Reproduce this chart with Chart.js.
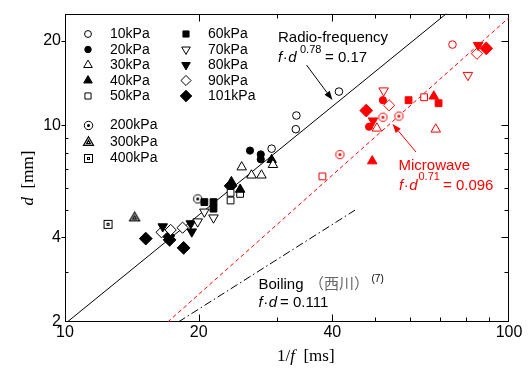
<!DOCTYPE html>
<html><head><meta charset="utf-8">
<script src="https://cdn.jsdelivr.net/npm/chart.js@4/dist/chart.umd.min.js"></script>
<style>html,body{margin:0;padding:0;background:#fff}#wrap{width:531px;height:369px;position:relative}</style>
</head><body><div id="wrap"><canvas id="c" width="531" height="369"></canvas></div>
<script>
// ---------- data ----------
const xTicks = [10, 20, 40, 100];
const yTicks = [2, 4, 10, 20];
const xMinor = [30, 50, 60, 70, 80, 90];
const yMinor = [3, 5, 6, 7, 8, 9];
const pressureLabels = ['10kPa','20kPa','30kPa','40kPa','50kPa','60kPa','70kPa','80kPa','90kPa','101kPa','200kPa','300kPa','400kPa'];

// Radio-frequency (black), [1/f ms, d mm]
const rf10  = [[33.2,10.85],[33.1,9.7],[29.2,8.27],[41.4,13.2]];
const rf20  = [[26.1,8.14],[27.6,7.89],[27.6,7.58]];
const rf30  = [[25.0,7.11],[26.3,6.65],[27.7,6.65],[29.4,7.25]];
const rf40  = [[23.7,6.3],[24.8,5.92],[29.2,7.55]];
const rf50  = [[23.6,5.76],[23.6,5.41],[24.8,5.71]];
const rf60  = [[20.6,5.34],[21.6,5.34],[21.6,5.06]];
const rf70  = [[19.9,4.55],[20.6,4.93],[21.6,4.70]];
const rf80  = [[16.6,4.37],[19.2,4.48],[19.3,4.19]];
const rf90  = [[16.5,4.17],[18.4,4.33],[17.3,4.25]];
const rf101 = [[15.2,3.96],[17.1,4.05],[17.2,3.92],[18.5,3.67],[23.6,6.1]];
const rf200 = [[19.9,5.48]];
const rf300 = [[14.35,4.73]];
const rf400 = [[12.5,4.45]];

// Microwave (red)
const mw10  = [[74.6,19.4]];
const mw20  = [[52.0,12.3],[48.4,9.9]];
const mw30  = [[50.4,9.77],[68.4,9.69]];
const mw40  = [[67.7,12.7],[49.2,7.47]];
const mw50  = [[64.4,12.6],[38.0,6.59]];
const mw60  = [[59.4,12.3],[69.4,12.0]];
const mw70  = [[52.2,13.3],[80.8,15.1]];
const mw80  = [[85.2,19.3],[49.4,10.4]];
const mw90  = [[84.7,18.0],[53.7,11.8]];
const mw101 = [[88.9,18.8],[47.7,11.3]];
const mw200 = [[52.0,10.7],[56.5,10.8],[41.6,7.88]];

// correlation lines (end points)
const rfLine   = [[10,1.97],[72.3,25]];   // f·d^0.78 = 0.17
const mwLine   = [[17.04,2],[100,24.2]];  // f·d^0.71 = 0.096
const boilLine = [[18.0,2],[45,5.0]];     // f·d = 0.111

const rfSets = [rf10,rf20,rf30,rf40,rf50,rf60,rf70,rf80,rf90,rf101,rf200,rf300,rf400];
const mwSets = [mw10,mw20,mw30,mw40,mw50,mw60,mw70,mw80,mw90,mw101,mw200,null,null];

// ---------- styles ----------
function makeImg(kind, color){
  const c = document.createElement('canvas'); c.width = 13; c.height = 13;
  const g = c.getContext('2d'); g.strokeStyle = color; g.fillStyle = color; g.lineWidth = 1;
  const m = 6.5;
  if (kind === 'dot'){
    g.beginPath(); g.arc(m,m,4.2,0,Math.PI*2); g.fillStyle='#fff'; g.fill(); g.stroke();
    g.beginPath(); g.arc(m,m,1.5,0,Math.PI*2); g.fillStyle=color; g.fill();
  } else if (kind === 'tri2'){
    const tri=(r)=>{g.beginPath();for(let i=0;i<3;i++){const a=-Math.PI/2+i*2*Math.PI/3;const px=m+r*Math.cos(a),py=m+1+r*Math.sin(a);i?g.lineTo(px,py):g.moveTo(px,py);}g.closePath();};
    tri(5.8); g.fillStyle='#fff'; g.fill(); g.lineWidth=1.2; g.stroke(); tri(2.2); g.lineWidth=1.2; g.stroke();
  } else {
    g.fillStyle='#fff'; g.fillRect(2.5,2.5,8,8); g.strokeRect(2.5,2.5,8,8); g.strokeRect(5.5,5.5,2,2);
  }
  return c;
}
function markerSpec(i, color){
  const specs = [
    {s:'circle', r:3.8, fill:false},
    {s:'circle', r:3.6, fill:true},
    {s:'triangle', r:5.5, fill:false},
    {s:'triangle', r:5.5, fill:true},
    {s:'rect', r:4.8, fill:false},
    {s:'rect', r:4.8, fill:true},
    {s:'triangle', r:5.5, fill:false, rot:180},
    {s:'triangle', r:5.5, fill:true, rot:180},
    {s:'rectRot', r:5.6, fill:false},
    {s:'rectRot', r:6.4, fill:true},
    {s:makeImg('dot',color), r:5, fill:false},
    {s:makeImg('tri2',color), r:5, fill:false},
    {s:makeImg('sq2',color), r:5, fill:false}
  ];
  return specs[i];
}

const datasets = [];
function addSets(sets, color){
  sets.forEach((arr, i) => {
    if (!arr) return;
    const m = markerSpec(i, color);
    datasets.push({
      label: pressureLabels[i],
      data: arr.map(p => ({x:p[0], y:p[1]})),
      pointStyle: m.s, pointRadius: m.r, pointRotation: m.rot || 0,
      backgroundColor: m.fill ? color : '#fff', borderColor: color, borderWidth: 1,
      showLine: false, order: 0
    });
  });
}
addSets(rfSets, '#000');
addSets(mwSets, '#ff0000');
function lineSet(arr, color, dash){
  return {label:'', data: arr.map(p=>({x:p[0],y:p[1]})), showLine:true, pointRadius:0,
    borderColor:color, borderWidth:1, borderDash:dash, fill:false, order:5};
}
datasets.push(lineSet(rfLine, '#000', []));
datasets.push(lineSet(mwLine, '#ff0000', [4,3]));
datasets.push(lineSet(boilLine, '#000', [8,3,1.5,3]));

// ---------- helpers ----------
const SANS = '"Liberation Sans", Arial, sans-serif';
const SERIF = '"Liberation Serif", "Times New Roman", serif';
function txt(ctx, s, x, y, font, color){ ctx.font = font; ctx.fillStyle = color; ctx.fillText(s, x, y); return x + ctx.measureText(s).width; }
function arrow(ctx, x1,y1,x2,y2,color){
  ctx.save(); ctx.strokeStyle=color; ctx.fillStyle=color; ctx.lineWidth=1;
  const a=Math.atan2(y2-y1,x2-x1), L=9, W=3.2;
  const bx=x2-L*Math.cos(a), by=y2-L*Math.sin(a);
  ctx.beginPath(); ctx.moveTo(x1,y1); ctx.lineTo(bx,by); ctx.stroke();
  ctx.beginPath(); ctx.moveTo(x2,y2);
  ctx.lineTo(bx+W*Math.sin(a), by-W*Math.cos(a)); ctx.lineTo(bx-W*Math.sin(a), by+W*Math.cos(a)); ctx.closePath(); ctx.fill();
  ctx.restore();
}

const framePlugin = {
  id:'frame',
  beforeDatasetsDraw(chart){
    const {ctx, chartArea:a, scales:{x,y}} = chart;
    ctx.save(); ctx.strokeStyle='#000'; ctx.lineWidth=1;
    const L=Math.round(a.left)+0.5, R=Math.round(a.right)-0.5, T=Math.round(a.top)+0.5, B=Math.round(a.bottom)-0.5;
    ctx.strokeRect(L,T,R-L,B-T);
    ctx.beginPath();
    const xt=(v,len)=>{const p=Math.round(x.getPixelForValue(v))+0.5; ctx.moveTo(p,B); ctx.lineTo(p,B-len); ctx.moveTo(p,T); ctx.lineTo(p,T+len);};
    xTicks.slice(1,-1).forEach(v=>xt(v,7)); xMinor.forEach(v=>xt(v,4));
    const yt=(v,len,out)=>{const p=Math.round(y.getPixelForValue(v))+0.5; ctx.moveTo(R,p); ctx.lineTo(R-len,p); if(out){ctx.moveTo(L,p);ctx.lineTo(L-4,p);}else{ctx.moveTo(L,p);ctx.lineTo(L+3,p);} };
    yTicks.slice(1).forEach(v=>yt(v,7,true)); yMinor.forEach(v=>yt(v,4,false));
    ctx.stroke(); ctx.restore();
  },
  afterDraw(chart){
    const ctx = chart.ctx;
    ctx.save(); ctx.textBaseline='alphabetic'; ctx.textAlign='left';
    // legend
    const drawPt = (i, cx, cy) => {
      const m = markerSpec(i, '#000');
      ctx.save(); ctx.fillStyle = m.fill ? '#000' : '#fff'; ctx.strokeStyle='#000'; ctx.lineWidth=1;
      Chart.helpers.drawPoint(ctx, {pointStyle:m.s, radius:m.r*0.9, rotation:m.rot||0, borderWidth:1}, cx, cy);
      ctx.restore();
    };
    ctx.textBaseline='middle';
    for (let i=0;i<13;i++){
      let cx, tx, cy;
      if (i<5){ cx=88; tx=110; cy=34+i*15.5; }
      else if (i<10){ cx=186; tx=208; cy=34+(i-5)*15.5; }
      else { cx=88; tx=110; cy=125+(i-10)*16.3; }
      const px = i>=10 ? Math.round(cx)+0.5 : cx, py = i>=10 ? Math.round(cy)+0.5 : cy;
      drawPt(i, px, py);
      txt(ctx, pressureLabels[i], tx, cy+0.5, '14px '+SANS, '#000');
    }
    ctx.textBaseline='alphabetic';
    // Radio-frequency
    txt(ctx, 'Radio-frequency', 278, 41.5, '15px '+SANS, '#000');
    let e = txt(ctx, 'f', 278, 61.5, 'italic 15px '+SANS, '#000');
    e = txt(ctx, '·', e+0.5, 61.5, '15px '+SANS, '#000');
    txt(ctx, 'd', e+0.5, 61.5, 'italic 15px '+SANS, '#000');
    txt(ctx, '0.78', 300, 53, '11px '+SANS, '#000');
    txt(ctx, '= 0.17', 325, 61.5, '15px '+SANS, '#000');
    arrow(ctx, 306.5, 65, 332.5, 100, '#000');
    // Microwave
    txt(ctx, 'Microwave', 398.5, 170, '15px '+SANS, '#ff0000');
    e = txt(ctx, 'f', 399, 189.5, 'italic 15px '+SANS, '#ff0000');
    e = txt(ctx, '·', e+0.5, 189.5, '15px '+SANS, '#ff0000');
    txt(ctx, 'd', e+0.5, 189.5, 'italic 15px '+SANS, '#ff0000');
    txt(ctx, '0.71', 418.5, 180, '11px '+SANS, '#ff0000');
    txt(ctx, '= 0.096', 443, 189.5, '15px '+SANS, '#ff0000');
    arrow(ctx, 416, 152, 392.5, 124, '#ff0000');
    // Boiling
    txt(ctx, 'Boiling', 258.5, 288.5, '15px '+SANS, '#000');
    txt(ctx, '（西川）', 309, 288.5, '15px "Noto Sans CJK JP", sans-serif', '#666');
    txt(ctx, '(7)', 371.5, 281.5, '10px '+SANS, '#000');
    e = txt(ctx, 'f', 258.5, 306.5, 'italic 15px '+SANS, '#000');
    e = txt(ctx, '·', e+0.5, 306.5, '15px '+SANS, '#000');
    txt(ctx, 'd', e+0.5, 306.5, 'italic 15px '+SANS, '#000');
    txt(ctx, '= 0.111', 280, 306.5, '15px '+SANS, '#000');
    // axis titles
    e = txt(ctx, '1/', 277, 361, '17px '+SERIF, '#000');
    e = txt(ctx, 'f', e, 361, 'italic 17px '+SERIF, '#000');
    txt(ctx, '  [ms]', e, 361, '17px '+SERIF, '#000');
    ctx.translate(33, 178); ctx.rotate(-Math.PI/2);
    ctx.font='italic 17px '+SERIF; const w1=ctx.measureText('d').width;
    ctx.font='17px '+SERIF; const w2=ctx.measureText('  [mm]').width;
    const sx = -(w1+w2)/2;
    txt(ctx, 'd', sx, 0, 'italic 17px '+SERIF, '#000');
    txt(ctx, '  [mm]', sx+w1, 0, '17px '+SERIF, '#000');
    ctx.restore();
  }
};

const tickFont = {family:'"Liberation Sans", Arial, sans-serif', size:16};
new Chart(document.getElementById('c'), {
  type:'scatter',
  data:{datasets},
  plugins:[framePlugin],
  options:{
    responsive:false, animation:false, devicePixelRatio:1, events:[],
    layout:{padding:{top:9, right:22, left:0, bottom:0}},
    plugins:{legend:{display:false}, tooltip:{enabled:false}},
    scales:{
      x:{type:'logarithmic', min:10, max:100,
        grid:{display:false, drawTicks:false, tickLength:0}, border:{display:false},
        afterBuildTicks:s=>{ s.ticks = xTicks.map(v=>({value:v})); },
        afterFit:s=>{ s.height = 47; },
        ticks:{autoSkip:false, maxRotation:0, padding:1, color:'#000', font:tickFont,
          callback:(v)=> xTicks.includes(v) ? String(v) : ''}},
      y:{type:'logarithmic', min:2, max:25,
        grid:{display:false, drawTicks:false, tickLength:0}, border:{display:false},
        afterBuildTicks:s=>{ s.ticks = yTicks.map(v=>({value:v})); },
        afterFit:s=>{ s.width = 65; },
        ticks:{autoSkip:false, padding:4, color:'#000', font:tickFont,
          callback:(v)=> yTicks.includes(v) ? String(v) : ''}}
    }
  }
});
</script></body></html>
